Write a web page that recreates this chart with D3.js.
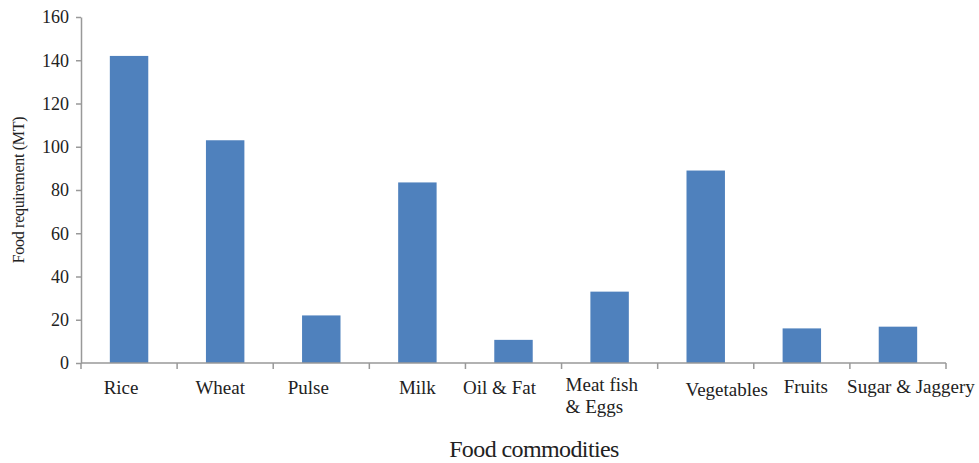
<!DOCTYPE html>
<html>
<head>
<meta charset="utf-8">
<script src="https://cdn.jsdelivr.net/npm/d3@7"></script>
<style>
  body { margin: 0; background: #fff; }
  text { font-family: "Liberation Serif", "DejaVu Serif", serif; fill: #222; }
</style>
</head>
<body>
<div id="chart"></div>
<script>
const categories = ["Rice", "Wheat", "Pulse", "Milk", "Oil & Fat", "Meat fish & Eggs", "Vegetables", "Fruits", "Sugar & Jaggery"];
const values = [142, 103, 22, 83.5, 10.7, 33, 89, 16, 16.8];
const yTicks = [0, 20, 40, 60, 80, 100, 120, 140, 160];

const width = 979, height = 463;
const margin = {top: 17, right: 33, bottom: 100, left: 81};

const svg = d3.select("#chart")
    .append("svg")
    .attr("width", width)
    .attr("height", height);

const x = d3.scaleBand()
    .domain(categories)
    .range([margin.left, width - margin.right])
    .paddingInner(0.6)
    .paddingOuter(0.3);

const y = d3.scaleLinear()
    .domain([0, 160])
    .range([height - margin.bottom, margin.top]);

// bars
svg.selectAll("rect.bar")
    .data(values)
    .join("rect")
    .attr("class", "bar")
    .attr("x", (d, i) => x(categories[i]))
    .attr("y", d => y(d))
    .attr("width", x.bandwidth())
    .attr("height", d => y(0) - y(d))
    .style("fill", "#4f81bd");

// y axis
const yAxis = svg.append("g")
    .attr("transform", `translate(${margin.left},0)`)
    .call(d3.axisLeft(y).tickValues(yTicks).tickSize(5).tickSizeOuter(0));
yAxis.select(".domain").attr("stroke", "#999").attr("stroke-width", 1.5);
yAxis.selectAll(".tick line").attr("stroke", "#999").attr("stroke-width", 1.5);
yAxis.selectAll(".tick text")
    .attr("x", -12)
    .style("font-size", "18px")
    .attr("fill", "#222");

// x axis, ticks at band boundaries
const bounds = d3.range(categories.length + 1).map(i => margin.left + i * (width - margin.left - margin.right) / categories.length);
const xAxis = svg.append("g");
xAxis.append("line")
    .attr("x1", margin.left).attr("x2", width - margin.right)
    .attr("y1", y(0)).attr("y2", y(0))
    .attr("stroke", "#999").attr("stroke-width", 1.5);
xAxis.selectAll("line.tick")
    .data(bounds)
    .join("line")
    .attr("class", "tick")
    .attr("x1", d => d).attr("x2", d => d)
    .attr("y1", y(0)).attr("y2", y(0) + 6)
    .attr("stroke", "#999").attr("stroke-width", 1.5);

// category labels
const labels = xAxis.selectAll("text.cat")
    .data(categories)
    .join("text")
    .attr("class", "cat")
    .attr("text-anchor", "middle")
    .attr("x", d => x(d) + x.bandwidth() / 2)
    .attr("y", y(0) + 31)
    .style("font-size", "19px");

labels.each(function(d) {
    const t = d3.select(this);
    if (d === "Meat fish & Eggs") {
        const cx = x(d) + x.bandwidth() / 2;
        t.attr("text-anchor", "start");
        t.append("tspan").attr("x", cx - 44).attr("dy", -3).text("Meat fish");
        t.append("tspan").attr("x", cx - 44).attr("dy", 22).text("& Eggs");
    } else if (d === "Vegetables") {
        t.attr("dx", 21).attr("dy", 2).text(d);
    } else if (d === "Sugar & Jaggery") {
        t.attr("dx", 13).attr("dy", -1).text(d);
    } else if (d === "Fruits") {
        t.attr("dx", 4).attr("dy", -1).text(d);
    } else if (d === "Oil & Fat") {
        t.attr("dx", -14).text(d);
    } else if (d === "Pulse") {
        t.attr("dx", -13).text(d);
    } else if (d === "Rice") {
        t.attr("dx", -8).text(d);
    } else if (d === "Wheat") {
        t.attr("dx", -5).text(d);
    } else {
        t.text(d);
    }
});

// axis titles
svg.append("text")
    .attr("transform", `translate(24,${(y(0) + y(160)) / 2}) rotate(-90)`)
    .attr("text-anchor", "middle")
    .style("font-size", "16px")
    .style("letter-spacing", "-0.3px")
    .text("Food requirement (MT)");

svg.append("text")
    .attr("x", 534)
    .attr("y", 457)
    .attr("text-anchor", "middle")
    .style("font-size", "24px")
    .style("letter-spacing", "-0.6px")
    .text("Food commodities");
</script>
</body>
</html>
